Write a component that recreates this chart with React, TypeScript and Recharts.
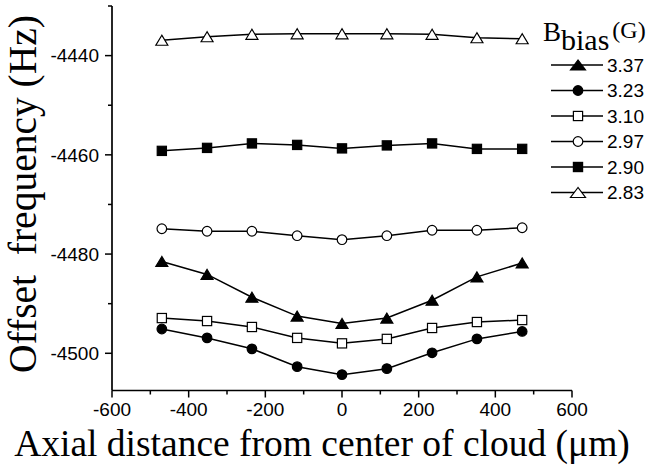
import React from "react";
import { LineChart, Line, XAxis, YAxis, Legend, Label } from "recharts";

// axial positions (um) and offset frequency (Hz) for each bias field
const distances = [-470, -352, -235, -117, 0, 117, 235, 352, 470];
const b337 = [-4481.5, -4484.1, -4488.7, -4492.5, -4494.0, -4492.9, -4489.3, -4484.6, -4481.8];
const b323 = [-4495.1, -4496.9, -4499.1, -4502.7, -4504.3, -4503.1, -4499.9, -4497.1, -4495.6];
const b310 = [-4492.9, -4493.5, -4494.7, -4496.9, -4498.0, -4497.1, -4494.9, -4493.7, -4493.3];
const b297 = [-4474.9, -4475.4, -4475.4, -4476.3, -4477.1, -4476.3, -4475.2, -4475.2, -4474.7];
const b290 = [-4459.2, -4458.6, -4457.7, -4458.0, -4458.7, -4458.1, -4457.7, -4458.8, -4458.8];
const b283 = [-4436.9, -4436.2, -4435.7, -4435.6, -4435.6, -4435.6, -4435.7, -4436.4, -4436.6];

const xTicks = [-600, -500, -400, -300, -200, -100, 0, 100, 200, 300, 400, 500, 600];
const yTicks = [-4500, -4490, -4480, -4470, -4460, -4450, -4440, -4430];

type Shape = "triangle" | "circle" | "square";

interface SeriesDef {
  key: string;
  label: string;
  shape: Shape;
  filled: boolean;
  values: number[];
}

const series: SeriesDef[] = [
  { key: "b337", label: "3.37", shape: "triangle", filled: true, values: b337 },
  { key: "b323", label: "3.23", shape: "circle", filled: true, values: b323 },
  { key: "b310", label: "3.10", shape: "square", filled: false, values: b310 },
  { key: "b297", label: "2.97", shape: "circle", filled: false, values: b297 },
  { key: "b290", label: "2.90", shape: "square", filled: true, values: b290 },
  { key: "b283", label: "2.83", shape: "triangle", filled: false, values: b283 },
];

const chartData = distances.map((x, i) => {
  const row: Record<string, number> = { x };
  series.forEach((s) => {
    row[s.key] = s.values[i];
  });
  return row;
});

const SANS = "'Liberation Sans', Arial, sans-serif";
const SERIF = "'Liberation Serif', 'Times New Roman', serif";

const Marker = ({ cx, cy, shape, filled, tw = 12 }: { cx: number; cy: number; shape: Shape; filled: boolean; tw?: number }) => {
  const fill = filled ? "#000" : "#fff";
  if (shape === "circle") {
    return <circle cx={cx} cy={cy} r={4.8} fill={fill} stroke="#000" strokeWidth={1.2} />;
  }
  if (shape === "square") {
    return <rect x={cx - 4.6} y={cy - 4.6} width={9.2} height={9.2} fill={fill} stroke="#000" strokeWidth={1.2} />;
  }
  const h = 10;
  return (
    <polygon
      points={`${cx},${cy - h / 2} ${cx - tw / 2},${cy + h / 2} ${cx + tw / 2},${cy + h / 2}`}
      fill={fill}
      stroke="#000"
      strokeWidth={1.2}
      strokeLinejoin="miter"
    />
  );
};

const makeDot = (s: SeriesDef) => (props: any) => {
  const { cx, cy, index } = props;
  if (cx == null || cy == null) return <g key={`${s.key}-${index}`} />;
  return (
    <g key={`${s.key}-${index}`}>
      <Marker cx={cx} cy={cy} shape={s.shape} filled={s.filled} />
    </g>
  );
};

const XTick = (props: any) => {
  const { x, y, payload } = props;
  const v = payload.value as number;
  const major = v % 200 === 0;
  return (
    <g>
      <line x1={x} x2={x} y1={y} y2={y + (major ? 7 : 4)} stroke="#000" strokeWidth={1.5} />
      {major && (
        <text x={x} y={y + 25.5} textAnchor="middle" fontFamily={SANS} fontSize={19} fill="#000">
          {v}
        </text>
      )}
    </g>
  );
};

const YTick = (props: any) => {
  const { x, y, payload } = props;
  const v = payload.value as number;
  const major = v % 20 === 0;
  return (
    <g>
      <line x1={x - (major ? 7 : 4)} x2={x} y1={y} y2={y} stroke="#000" strokeWidth={1.5} />
      {major && (
        <text x={x - 13} y={y + 6.8} textAnchor="end" fontFamily={SANS} fontSize={19} fill="#000">
          {v}
        </text>
      )}
    </g>
  );
};

const renderLegend = () => (
  <svg width={115} height={190} style={{ overflow: "visible" }}>
    <text x={3} y={26} fontFamily={SERIF} fill="#000">
      <tspan fontSize={27}>B</tspan>
      <tspan fontSize={30} dy={9}>bias</tspan>
      <tspan fontSize={24} dy={-12} dx={3}>(G)</tspan>
    </text>
    {series.map((s, i) => {
      const cy = 50 + i * 25.5;
      return (
        <g key={s.key}>
          <line x1={11} x2={63} y1={cy} y2={cy} stroke="#000" strokeWidth={1.5} />
          <Marker cx={38} cy={cy} shape={s.shape} filled={s.filled} tw={15} />
          <text x={67} y={cy + 6.5} fontFamily={SANS} fontSize={19} fill="#000">
            {s.label}
          </text>
        </g>
      );
    })}
  </svg>
);

export default function App() {
  return (
    <div style={{ width: 655, height: 465, position: "relative", background: "#fff" }}>
      <style>{"body{margin:0}"}</style>
      <LineChart
        width={655}
        height={465}
        data={chartData}
        margin={{ top: 6, right: 83, left: 0, bottom: 44.5 }}
      >
        <XAxis
          dataKey="x"
          type="number"
          domain={[-600, 600]}
          ticks={xTicks}
          interval={0}
          height={30}
          tickSize={0}
          tickMargin={0}
          tickLine={false}
          tick={<XTick />}
          axisLine={{ stroke: "#000", strokeWidth: 1.7 }}
        >
          <Label
            content={() => (
              <text x={322} y={456} textAnchor="middle" fontFamily={SERIF} fontSize={37.5} fill="#000">
                Axial distance from center of cloud (μm)
              </text>
            )}
          />
        </XAxis>
        <YAxis
          type="number"
          domain={[-4507.5, -4430]}
          allowDataOverflow
          ticks={yTicks}
          interval={0}
          width={112}
          tickSize={0}
          tickMargin={0}
          tickLine={false}
          tick={<YTick />}
          axisLine={{ stroke: "#000", strokeWidth: 1.7 }}
        >
          <Label
            content={() => (
              <text
                x={36}
                y={194}
                transform="rotate(-90 36 194)"
                textAnchor="middle"
                fontFamily={SERIF}
                fontSize={39.5}
                fill="#000"
                style={{ whiteSpace: "pre" }}
              >
                {"Offset  frequency (Hz)"}
              </text>
            )}
          />
        </YAxis>
        <Legend
          layout="vertical"
          align="center"
          verticalAlign="middle"
          content={renderLegend}
          wrapperStyle={{ position: "absolute", left: 540, top: 15, width: 115, height: 190 }}
        />
        {series.map((s) => (
          <Line
            key={s.key}
            dataKey={s.key}
            type="linear"
            stroke="#000"
            strokeWidth={1.5}
            dot={makeDot(s)}
            activeDot={false}
            isAnimationActive={false}
          />
        ))}
      </LineChart>
    </div>
  );
}
